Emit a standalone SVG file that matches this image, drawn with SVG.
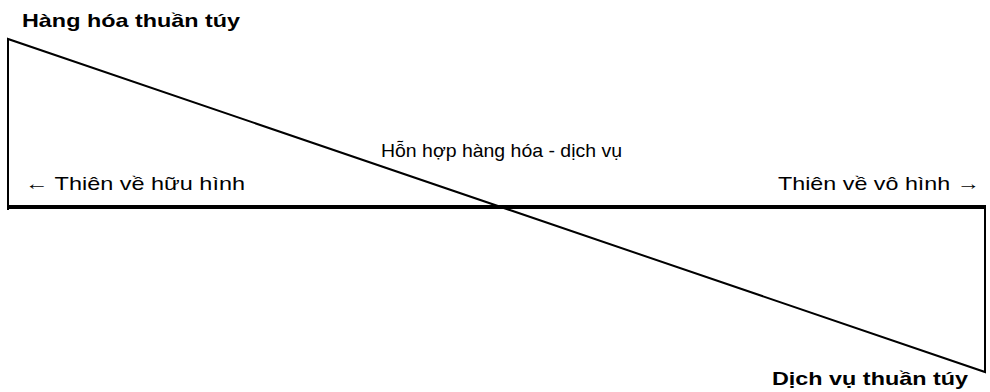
<svg xmlns="http://www.w3.org/2000/svg" width="990" height="392" viewBox="0 0 990 392">
<style>
.ln{stroke:#000;stroke-width:2;fill:none;stroke-linejoin:miter;stroke-linecap:square}
.thick{stroke:#000;stroke-width:4;fill:none}
.b{font-family:"Liberation Sans",Arial,sans-serif;font-weight:bold;font-size:19px;fill:#000}
.r{font-family:"Liberation Sans",Arial,sans-serif;font-size:19px;fill:#000}
</style>
<rect width="990" height="392" fill="#fff"/>
<g id="shapes">
<polyline class="ln" points="8,209 8,39 985,372 985,206"/>
<line class="thick" x1="7" y1="207" x2="986" y2="207"/>
</g>
<g id="labels">
<text class="b" x="22" y="27" textLength="218" lengthAdjust="spacingAndGlyphs">Hàng hóa thuần túy</text>
<text class="b" x="772" y="385" textLength="196" lengthAdjust="spacingAndGlyphs">Dịch vụ thuần túy</text>
<text class="r" x="381" y="157" textLength="241" lengthAdjust="spacingAndGlyphs">Hỗn hợp hàng hóa - dịch vụ</text>
<text class="r" x="25" y="190" textLength="220" lengthAdjust="spacingAndGlyphs">← Thiên về hữu hình</text>
<text class="r" x="778" y="190" textLength="202" lengthAdjust="spacingAndGlyphs">Thiên về vô hình →</text>
</g>
</svg>
